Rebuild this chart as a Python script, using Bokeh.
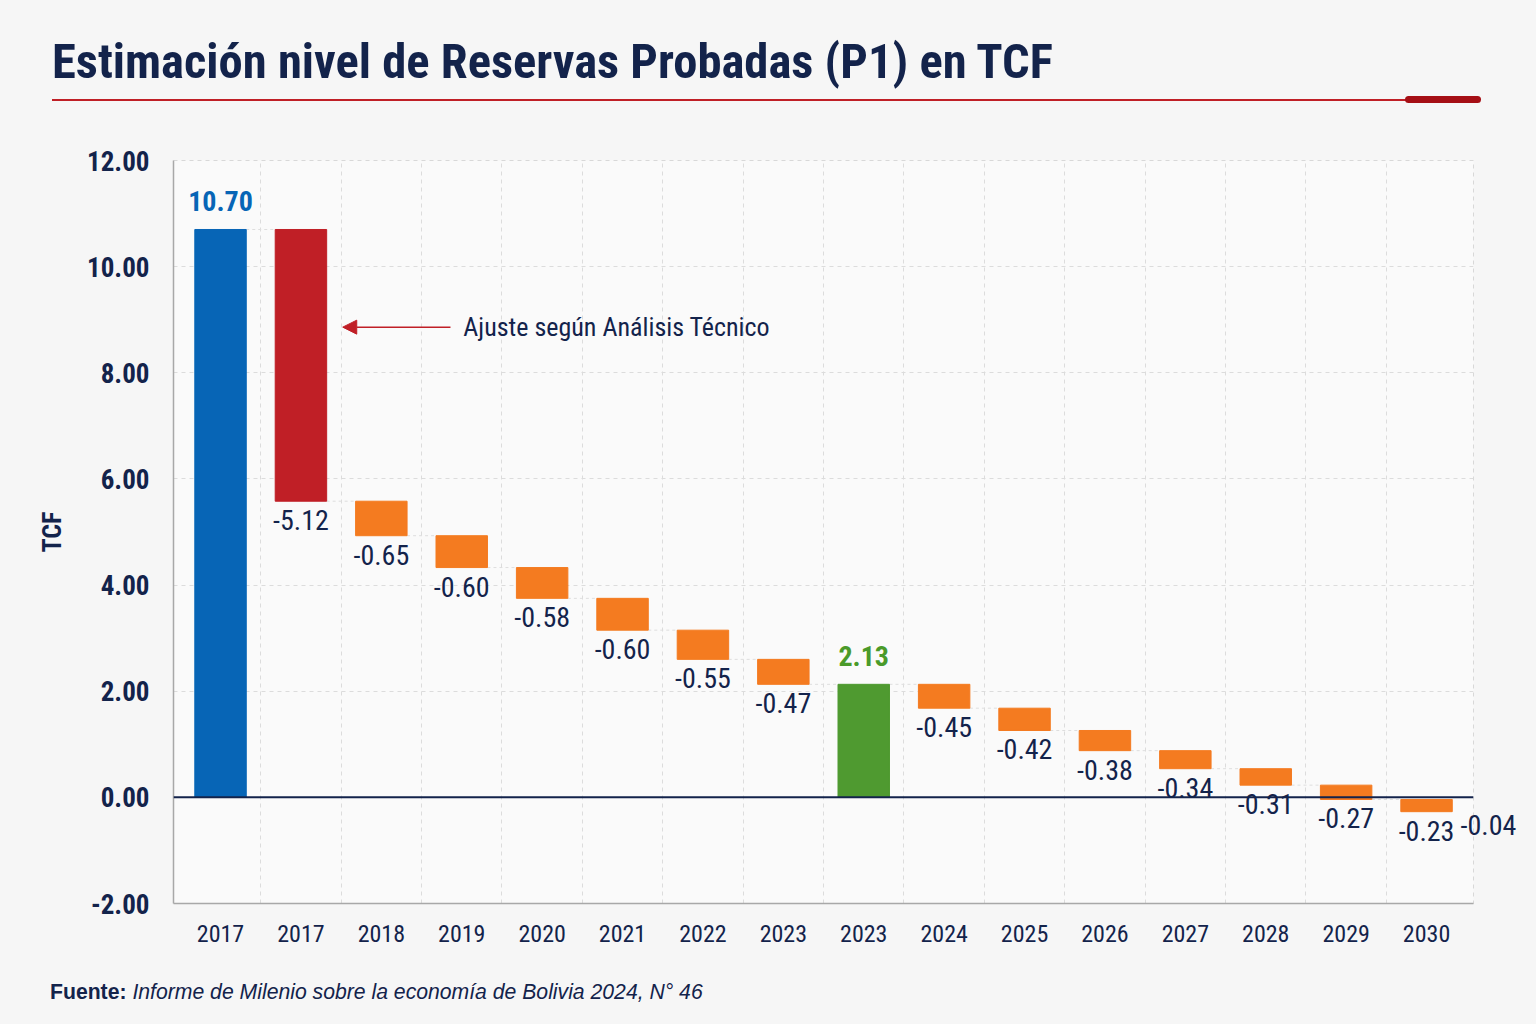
from bokeh.plotting import figure
from bokeh.models import (ColumnDataSource, Range1d, FixedTicker, NumeralTickFormatter, Span,
                          Arrow, NormalHead, Label, LabelSet, LinearAxis, Div)
from bokeh.layouts import column
from bokeh.embed import file_html
from bokeh.resources import INLINE
from bokeh.core.properties import value

# ---------------- data ----------------
years = ["2017", "2017", "2018", "2019", "2020", "2021", "2022", "2023",
         "2023", "2024", "2025", "2026", "2027", "2028", "2029", "2030"]
start_total = 10.70
adjustment = -5.12
declines_2018_2023 = [-0.65, -0.60, -0.58, -0.60, -0.55, -0.47]
subtotal_2023 = 2.13
declines_2024_2030 = [-0.45, -0.42, -0.38, -0.34, -0.31, -0.27, -0.23]
trailing_decline = -0.04
y_ticks = [-2, 0, 2, 4, 6, 8, 10, 12]

TITLE = "Estimación nivel de Reservas Probadas (P1) en TCF"
NOTE = "Ajuste según Análisis Técnico"
SOURCE_B = "Fuente:"
SOURCE_I = "Informe de Milenio sobre la economía de Bolivia 2024, N° 46"

# ---------------- styles ----------------
FONT = "'Roboto Condensed', 'Liberation Sans Narrow', 'DejaVu Sans Condensed', Roboto, sans-serif"
SANS = "'Liberation Sans', Arial, sans-serif"
NAVY = "#13234b"
BLUE = "#0765b6"
RED = "#c01f26"
DARKRED = "#a50f15"
ORANGE = "#f47b20"
GREEN = "#4f9a30"
BG = "#f6f6f6"

# ---------------- waterfall computation ----------------
bottoms, tops, colors, kinds = [], [], [], []
bottoms.append(0.0); tops.append(start_total); colors.append(BLUE); kinds.append("total")
level = start_total
for d, c in [(adjustment, RED)] + [(d, ORANGE) for d in declines_2018_2023]:
    bottoms.append(level + d); tops.append(level); colors.append(c); kinds.append("step")
    level = round(level + d, 2)
bottoms.append(0.0); tops.append(subtotal_2023); colors.append(GREEN); kinds.append("total")
level = subtotal_2023
for d in declines_2024_2030:
    bottoms.append(level + d); tops.append(level); colors.append(ORANGE); kinds.append("step")
    level = round(level + d, 2)
trailing_level = round(level + trailing_decline, 2)

xs = list(range(len(years)))
bar_src = ColumnDataSource(dict(x=xs, top=tops, bottom=bottoms, color=colors))

step_vals = [adjustment] + declines_2018_2023 + declines_2024_2030
step_x = [i for i, k in enumerate(kinds) if k == "step"]
neg_src = ColumnDataSource(dict(x=step_x, y=[bottoms[i] for i in step_x],
                                t=["%.2f" % v for v in step_vals]))

tot_x = [i for i, k in enumerate(kinds) if k == "total"]
tot_src = ColumnDataSource(dict(x=tot_x, y=[tops[i] for i in tot_x],
                                t=["%.2f" % tops[i] for i in tot_x],
                                c=[BLUE, "#4a9a2a"]))

end_levels = [tops[i] if k == "total" else bottoms[i] for i, k in enumerate(kinds)]
con_src = ColumnDataSource(dict(x0=[i + 0.32 for i in xs[:-1]], x1=[i + 0.68 for i in xs[:-1]],
                                y=end_levels[:-1]))

# ---------------- header (title + rule) ----------------
header = Div(width=1536, height=130, margin=0, text=(
    f'<div style="position:relative;width:1536px;height:130px;background:{BG};">'
    f'<div style="position:absolute;left:52px;top:38px;font-family:{FONT};font-weight:bold;'
    f'font-size:48.6px;line-height:1;color:{NAVY};white-space:nowrap;">{TITLE}</div>'
    f'<div style="position:absolute;left:52px;top:99px;width:1356px;height:2px;background:{RED};"></div>'
    f'<div style="position:absolute;left:1405px;top:96px;width:76px;height:7px;border-radius:4px;'
    f'background:{DARKRED};"></div></div>'))

# ---------------- main figure ----------------
p = figure(width=1536, height=830, x_range=Range1d(-0.585, 15.584),
           y_range=Range1d(-2, 12), toolbar_location=None, output_backend="svg",
           min_border_left=173, min_border_right=63, min_border_top=30, min_border_bottom=57)
p.background_fill_color = "#fafafa"
p.border_fill_color = BG
p.outline_line_color = "#d8d8d8"
p.outline_line_dash = "4 4"

p.xgrid.ticker = FixedTicker(ticks=[i + 0.5 for i in xs[:-1]])
p.xgrid.grid_line_color = "#dcdcdc"
p.xgrid.grid_line_dash = "4 4"
p.ygrid.ticker = FixedTicker(ticks=y_ticks)
p.ygrid.grid_line_color = "#dcdcdc"
p.ygrid.grid_line_dash = "4 4"

p.xaxis.ticker = FixedTicker(ticks=xs)
p.xaxis.major_label_overrides = {i: y for i, y in enumerate(years)}
p.yaxis.ticker = FixedTicker(ticks=y_ticks)
p.yaxis.formatter = NumeralTickFormatter(format="0.00")
for ax in (p.xaxis, p.yaxis):
    ax.major_tick_line_color = None
    ax.minor_tick_line_color = None
    ax.axis_line_color = "#a8a8a8"
    ax.axis_line_width = 1.5
    ax.major_label_text_font = FONT
    ax.major_label_text_color = NAVY
p.xaxis.major_label_text_font_size = "24px"
p.xaxis.major_label_standoff = 15
p.yaxis.major_label_text_font_size = "27px"
p.yaxis.major_label_text_font_style = "bold"
p.yaxis.major_label_standoff = 18
p.yaxis.axis_label = "TCF"
p.yaxis.axis_label_text_font = FONT
p.yaxis.axis_label_text_font_size = "26px"
p.yaxis.axis_label_text_font_style = "bold"
p.yaxis.axis_label_text_color = NAVY
p.yaxis.axis_label_standoff = 17

# right-side label for the trailing step (sits past the frame edge)
p.extra_y_ranges = {"lbl": Range1d(-2 + 0.22, 12 + 0.22)}
tail_axis = LinearAxis(y_range_name="lbl", ticker=FixedTicker(ticks=[trailing_level]),
                       major_label_overrides={trailing_level: "%.2f" % trailing_decline})
tail_axis.axis_line_color = None
tail_axis.major_tick_line_color = None
tail_axis.minor_tick_line_color = None
tail_axis.major_label_standoff = -19
tail_axis.major_label_text_font = FONT
tail_axis.major_label_text_font_size = "28px"
tail_axis.major_label_text_color = NAVY
p.add_layout(tail_axis, "right")

p.segment(x0="x0", y0="y", x1="x1", y1="y", source=con_src, line_color="#dedede",
          line_width=1, line_dash="3 3")
p.vbar(x="x", top="top", bottom="bottom", width=0.64, color="color", source=bar_src)
p.add_layout(Span(location=0, dimension="width", line_color=NAVY, line_width=2))

p.add_layout(LabelSet(x="x", y="y", text="t", source=neg_src, text_font=value(FONT),
                      text_font_size="28px", text_color=NAVY, text_align="center",
                      text_baseline="top", y_offset=-9))
p.add_layout(LabelSet(x="x", y="y", text="t", source=tot_src, text_font=value(FONT),
                      text_font_size="28px", text_font_style="bold", text_color="c",
                      text_align="center", text_baseline="bottom", y_offset=18))

# annotation arrow
p.add_layout(Arrow(end=NormalHead(size=14, fill_color=RED, line_color=RED),
                   x_start=2.86, y_start=8.86, x_end=1.52, y_end=8.86,
                   line_color=RED, line_width=1.5))
p.add_layout(Label(x=3.02, y=8.86, text=NOTE, text_font=FONT, text_font_size="26px",
                   text_color=NAVY, text_baseline="middle"))

# ---------------- footer (source) ----------------
footer = Div(width=1536, height=64, margin=0, text=(
    f'<div style="position:relative;width:1536px;height:64px;background:{BG};">'
    f'<div style="position:absolute;left:50px;top:0;line-height:64px;font-family:{SANS};'
    f'font-size:21.2px;color:{NAVY};white-space:nowrap;">'
    f'<b>{SOURCE_B}</b> <i>{SOURCE_I}</i></div></div>'))

layout = column(header, p, footer, spacing=0, styles={"background-color": BG})
open("out.html", "w").write(file_html(layout, INLINE))
